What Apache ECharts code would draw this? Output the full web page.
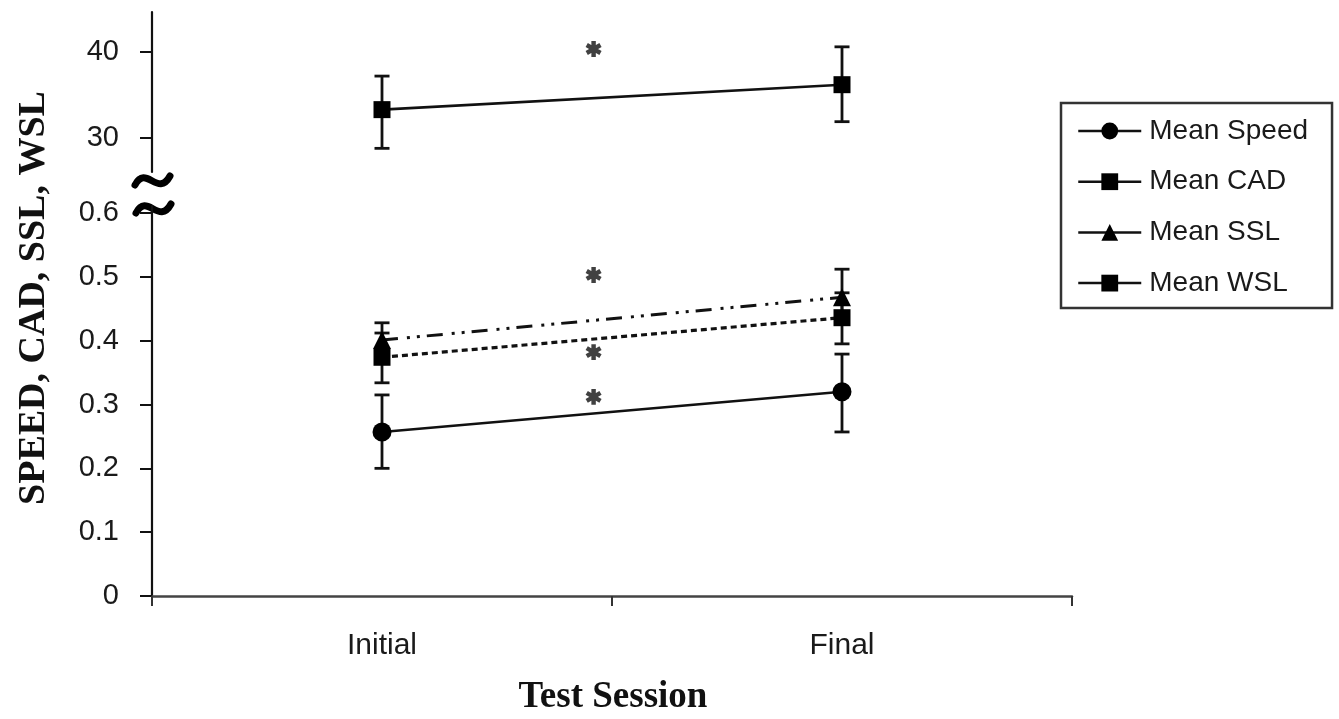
<!DOCTYPE html>
<html>
<head>
<meta charset="utf-8">
<script src="https://cdn.jsdelivr.net/npm/echarts@6/dist/echarts.min.js"></script>
<style>
html,body{margin:0;padding:0;background:#fff;}
#chart{width:1339px;height:719px;}
</style>
</head>
<body>
<div id="chart"></div>
<script>
// ---- data ----
const categories = ['Initial', 'Final'];
const sessionX = [0, 1];

const speedMean = [0.257, 0.320];
const speedLow  = [0.200, 0.257];
const speedHigh = [0.315, 0.379];

const cadMean = [33.3, 36.2];
const cadLow  = [28.8, 31.9];
const cadHigh = [37.2, 40.6];

const sslMean = [0.401, 0.468];
const sslLow  = [0.368, 0.428];
const sslHigh = [0.428, 0.512];

const wslMean = [0.374, 0.436];
const wslLow  = [0.334, 0.395];
const wslHigh = [0.412, 0.475];

// significance markers (x between sessions)
const starX = 0.46;
const starsUpper = [40.35];
const starsLower = [0.503, 0.382, 0.312];

const upperTicks = [30, 40];
const lowerTicks = [0, 0.1, 0.2, 0.3, 0.4, 0.5, 0.6];
const xTickBounds = [-0.5, 0.5, 1.5];

// ---- helpers ----
function pairs(ys) { return sessionX.map((x, i) => [x, ys[i]]); }
function errs(lo, hi) { return sessionX.map((x, i) => [x, lo[i], hi[i]]); }

function asteriskPath() {
  const L = 10, W = 2.8, parts = [];
  [90, 30, -30].forEach(deg => {
    const a = deg * Math.PI / 180, c = Math.cos(a), s = Math.sin(a);
    const pts = [[-L, -W], [L, -W], [L, W], [-L, W]].map(([u, v]) =>
      [(u * c - v * s).toFixed(2), (u * s + v * c).toFixed(2)]);
    parts.push('M' + pts.map(p => p.join(',')).join(' L') + ' Z');
  });
  return 'path://' + parts.join(' ');
}
const STAR = asteriskPath();

function renderErr(params, api) {
  const x = api.value(0), lo = api.value(1), hi = api.value(2);
  const a = api.coord([x, lo]), b = api.coord([x, hi]);
  const hw = 7.5;
  const st = { stroke: '#111', lineWidth: 2.8 };
  return {
    type: 'group',
    children: [
      { type: 'line', shape: { x1: a[0], y1: a[1], x2: b[0], y2: b[1] }, style: st },
      { type: 'line', shape: { x1: a[0] - hw, y1: a[1], x2: a[0] + hw, y2: a[1] }, style: st },
      { type: 'line', shape: { x1: b[0] - hw, y1: b[1], x2: b[0] + hw, y2: b[1] }, style: st }
    ]
  };
}

const sans = "'Liberation Sans', Arial, sans-serif";
const serif = "'Liberation Serif', 'Times New Roman', serif";
const ink = '#111';

const chart = echarts.init(document.getElementById('chart'), null, { renderer: 'canvas' });

const option = {
  animation: false,
  backgroundColor: '#fff',
  grid: [
    { left: 152, width: 920, top: 12, height: 160 },
    { left: 152, width: 920, top: 206, height: 390 }
  ],
  xAxis: [
    { type: 'value', gridIndex: 0, min: -0.5, max: 1.5, show: false },
    {
      type: 'value', gridIndex: 1, min: -0.5, max: 1.5,
      splitLine: { show: false },
      axisLine: { onZero: false, lineStyle: { color: '#444', width: 2.5 } },
      axisTick: { customValues: xTickBounds, length: 10, lineStyle: { color: '#333', width: 2 } },
      axisLabel: {
        customValues: sessionX,
        formatter: v => categories[Math.round(v)],
        fontFamily: sans, fontSize: 30, color: '#1a1a1a', margin: 35
      }
    }
  ],
  yAxis: [
    {
      type: 'value', gridIndex: 0, min: 26.05, max: 44.65,
      splitLine: { show: false },
      axisLine: { show: true, onZero: false, lineStyle: { color: ink, width: 2.2 } },
      axisTick: { show: true, customValues: upperTicks, length: 12, lineStyle: { color: ink, width: 2 } },
      axisLabel: { customValues: upperTicks, formatter: v => String(v), fontFamily: sans, fontSize: 29, color: '#1a1a1a', margin: 33 }
    },
    {
      type: 'value', gridIndex: 1, min: 0, max: 0.611,
      splitLine: { show: false },
      axisLine: { show: true, onZero: false, lineStyle: { color: ink, width: 2.2 } },
      axisTick: { show: true, customValues: lowerTicks, length: 12, lineStyle: { color: ink, width: 2 } },
      axisLabel: { customValues: lowerTicks, formatter: v => String(v), fontFamily: sans, fontSize: 29, color: '#1a1a1a', margin: 33 }
    }
  ],
  legend: {
    orient: 'vertical',
    left: 1061, top: 103,
    padding: [13, 24, 10, 16],
    itemGap: 20.7,
    itemWidth: 63, itemHeight: 21,
    borderColor: '#333', borderWidth: 2.5,
    backgroundColor: '#fff',
    data: ['Mean Speed', 'Mean CAD', 'Mean SSL', 'Mean WSL'],
    lineStyle: { type: 'solid', color: ink, width: 2.5 },
    itemStyle: { color: '#000' },
    textStyle: { fontFamily: sans, fontSize: 28, color: '#1a1a1a', lineHeight: 30, padding: [0, 0, 0, 3] }
  },
  series: [
    {
      type: 'custom', name: 'errCAD', xAxisIndex: 0, yAxisIndex: 0, z: 1,
      renderItem: renderErr, encode: { x: 0, y: [1, 2] },
      data: errs(cadLow, cadHigh), silent: true
    },
    {
      type: 'custom', name: 'errLower', xAxisIndex: 1, yAxisIndex: 1, z: 1,
      renderItem: renderErr, encode: { x: 0, y: [1, 2] },
      data: errs(speedLow, speedHigh).concat(errs(sslLow, sslHigh), errs(wslLow, wslHigh)), silent: true
    },
    {
      type: 'line', name: 'Mean Speed', xAxisIndex: 1, yAxisIndex: 1, z: 3,
      data: pairs(speedMean), symbol: 'circle', symbolSize: 19,
      lineStyle: { color: ink, width: 2.6, type: 'solid' },
      itemStyle: { color: '#000' }
    },
    {
      type: 'line', name: 'Mean CAD', xAxisIndex: 0, yAxisIndex: 0, z: 3,
      data: pairs(cadMean), symbol: 'rect', symbolSize: 17,
      lineStyle: { color: ink, width: 2.6, type: 'solid' },
      itemStyle: { color: '#000' }
    },
    {
      type: 'line', name: 'Mean SSL', xAxisIndex: 1, yAxisIndex: 1, z: 3,
      data: pairs(sslMean), symbol: 'triangle', symbolSize: 18,
      lineStyle: { color: ink, width: 3, type: [16, 9, 3, 7, 3, 7] },
      itemStyle: { color: '#000' }
    },
    {
      type: 'line', name: 'Mean WSL', xAxisIndex: 1, yAxisIndex: 1, z: 3,
      data: pairs(wslMean), symbol: 'rect', symbolSize: 17,
      lineStyle: { color: ink, width: 3.2, type: [6, 4] },
      itemStyle: { color: '#000' }
    },
    {
      type: 'scatter', name: 'sigUpper', xAxisIndex: 0, yAxisIndex: 0, z: 4,
      data: starsUpper.map(v => [starX, v]), symbol: STAR, symbolSize: 16, symbolKeepAspect: true,
      itemStyle: { color: '#111' }, silent: true
    },
    {
      type: 'scatter', name: 'sigLower', xAxisIndex: 1, yAxisIndex: 1, z: 4,
      data: starsLower.map(v => [starX, v]), symbol: STAR, symbolSize: 16, symbolKeepAspect: true,
      itemStyle: { color: '#111' }, silent: true
    }
  ],
  graphic: [
    {
      type: 'text', x: 34, y: 298, rotation: Math.PI / 2,
      style: { text: 'SPEED, CAD, SSL, WSL', font: 'bold 38px ' + serif, fill: '#111', align: 'center', verticalAlign: 'middle' }
    },
    {
      type: 'text', x: 613, y: 697,
      style: { text: 'Test Session', font: 'bold 37px ' + serif, fill: '#111', align: 'center', verticalAlign: 'middle' }
    },
    {
      type: 'bezierCurve', silent: true,
      shape: { x1: 135, y1: 185, cpx1: 146, cpy1: 164, cpx2: 158, cpy2: 198, x2: 170, y2: 176 },
      style: { stroke: '#000', lineWidth: 7, fill: null, lineCap: 'round' }
    },
    {
      type: 'bezierCurve', silent: true,
      shape: { x1: 136, y1: 213, cpx1: 147, cpy1: 192, cpx2: 159, cpy2: 226, x2: 171, y2: 204 },
      style: { stroke: '#000', lineWidth: 7, fill: null, lineCap: 'round' }
    }
  ]
};

chart.setOption(option);
</script>
</body>
</html>
